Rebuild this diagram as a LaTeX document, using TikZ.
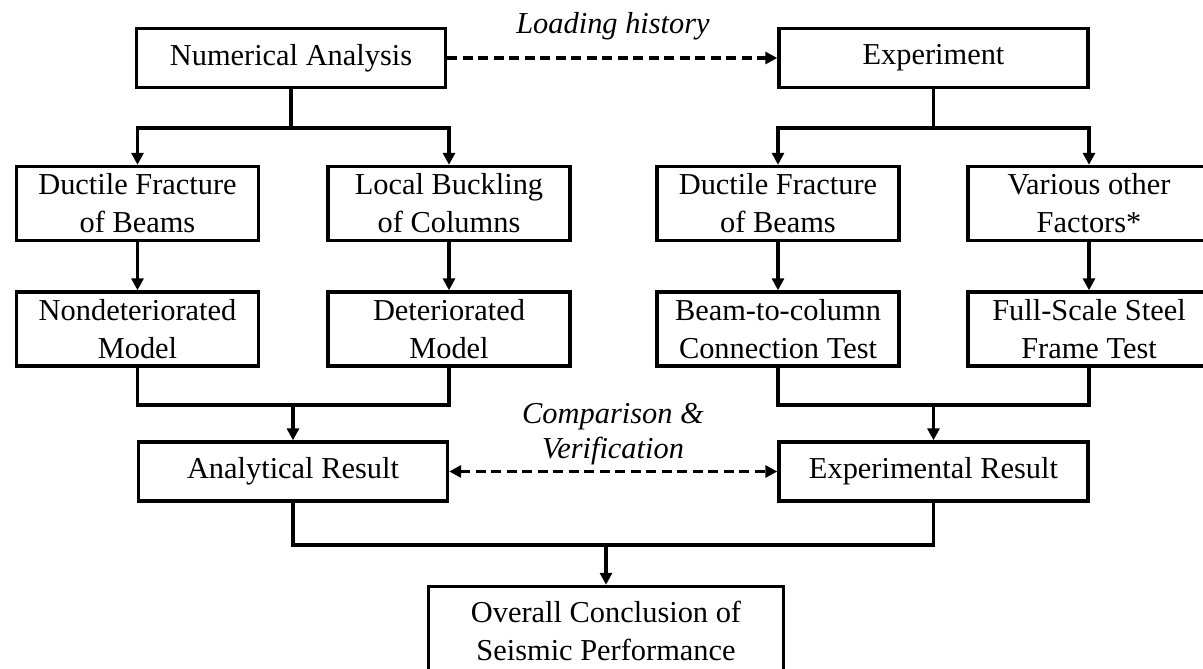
\documentclass[tikz,border=0pt]{standalone}
\usepackage{fontspec}
\setmainfont{Liberation Serif}
\usetikzlibrary{arrows.meta}
\begin{document}
\begin{tikzpicture}[x=1pt,y=-1pt,
  box/.style={draw, line width=3.4pt, minimum width=242pt, minimum height=74pt, inner sep=0pt, align=center, font=\fontsize{30.4}{38}\selectfont},
  wbox/.style={box, minimum width=309pt, minimum height=59pt},
  conn/.style={line width=3.4pt},
  arr/.style={conn, -{Triangle[length=12pt,width=12pt]}},
  dasharr/.style={line width=3.4pt, dash pattern=on 10pt off 5.5pt, -{Triangle[length=12pt,width=12pt]}},
  dasharr2/.style={line width=3.4pt, dash pattern=on 10pt off 5.5pt, {Triangle[length=12pt,width=12pt]}-{Triangle[length=12pt,width=12pt]}},
  lbl/.style={font=\fontsize{30.4}{35}\selectfont\itshape, align=center, inner sep=0pt}
]
\useasboundingbox (0,0) rectangle (1203,669);
\clip (0,0) rectangle (1203,669);

% top row
\node[wbox] (NA) at (291,58) {Numerical Analysis};
\node[wbox] (EX) at (933.5,58) {Experiment};

% second row
\node[box] (DFL) at (137.5,203.5) {Ductile Fracture\\of Beams};
\node[box] (LB)  at (449,203.5)   {Local Buckling\\of Columns};
\node[box] (DFR) at (778,203.5)   {Ductile Fracture\\of Beams};
\node[box] (VO)  at (1089,203.5)  {Various other\\Factors*};

% third row
\node[box] (NDM) at (137.5,329) {Nondeteriorated\\Model};
\node[box] (DM)  at (449,329)   {Deteriorated\\Model};
\node[box] (BCT) at (778,329)   {Beam-to-column\\Connection Test};
\node[box] (FST) at (1089,329)  {Full-Scale Steel\\Frame Test};

% results
\node[wbox] (AR) at (293,471.5) {Analytical Result};
\node[wbox] (ER) at (933.5,471.5) {Experimental Result};

% conclusion
\node[box, minimum width=355pt, minimum height=89pt] (OC) at (606,631) {Overall Conclusion of\\Seismic Performance};

% labels
\node[lbl, anchor=base] (LH) at (613,34) {Loading history};
\node[lbl] (CV) at (613,434) {Comparison \&\\Verification};

% split points
\coordinate (s1) at (291,128);
\coordinate (s2) at (933.5,128);
\coordinate (m1) at (293,405);
\coordinate (m2) at (933.5,405);
\coordinate (m3) at (606,545);

\draw[conn] (NA.south) -- (s1);
\draw[arr] (s1) -| (DFL.north);
\draw[arr] (s1) -| (LB.north);
\draw[conn] (EX.south) -- (s2);
\draw[arr] (s2) -| (DFR.north);
\draw[arr] (s2) -| (VO.north);

\draw[arr] (DFL) -- (NDM);
\draw[arr] (LB) -- (DM);
\draw[arr] (DFR) -- (BCT);
\draw[arr] (VO) -- (FST);

\draw[conn] (NDM.south) |- (m1) -| (DM.south);
\draw[arr] (m1) -- (AR.north);
\draw[conn] (BCT.south) |- (m2) -| (FST.south);
\draw[arr] (m2) -- (ER.north);

\draw[conn] (AR.south) |- (m3) -| (ER.south);
\draw[arr] (m3) -- (OC.north);

\draw[dasharr] (NA.east) -- (EX.west);
\draw[dasharr2] (AR.east) -- (ER.west);
\end{tikzpicture}
\end{document}
